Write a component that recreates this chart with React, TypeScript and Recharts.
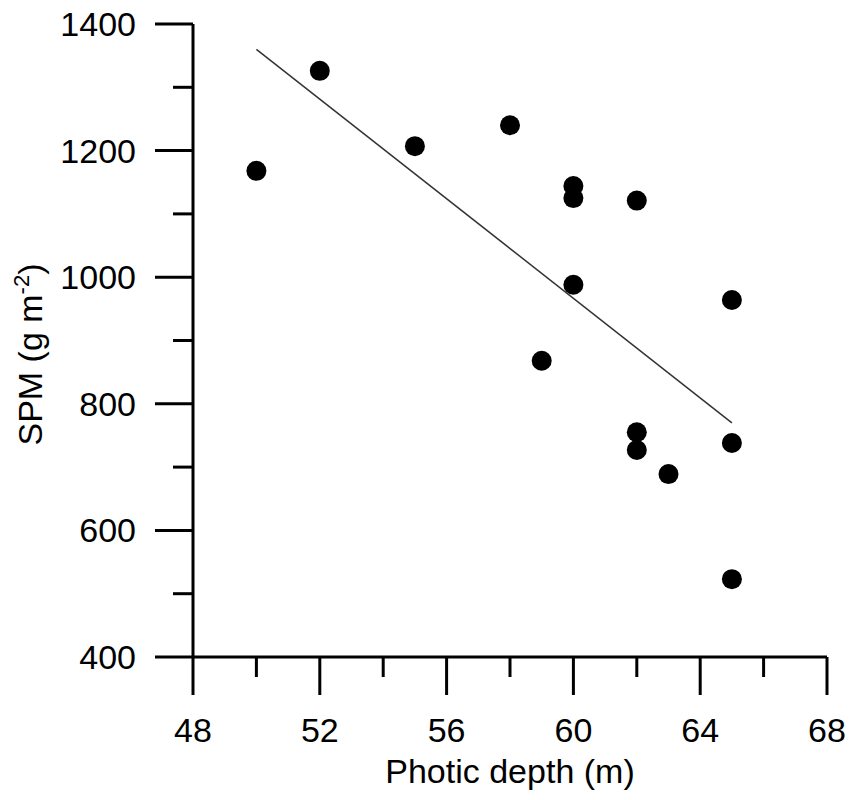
import React from 'react';
import { ScatterChart, Scatter, XAxis, YAxis, Label } from 'recharts';

// photic depth (m) vs SPM (g m-2)
const depth = [50, 52, 55, 58, 59, 60, 60, 60, 62, 62, 62, 63, 65, 65, 65];
const spm = [1168, 1326, 1207, 1240, 868, 1144, 1125, 988, 1121, 755, 727, 689, 964, 738, 523];

// fitted trend line, read from the two ends
const fitX = [50, 65];
const fitY = [1360, 770];

const xTicks = [48, 50, 52, 54, 56, 58, 60, 62, 64, 66, 68];
const xLabels = [48, 52, 56, 60, 64, 68];
const yTicks = [400, 500, 600, 700, 800, 900, 1000, 1100, 1200, 1300, 1400];
const yLabels = [400, 600, 800, 1000, 1200, 1400];

const points = depth.map((d, i) => ({ x: d, y: spm[i] }));
const fitLine = fitX.map((d, i) => ({ x: d, y: fitY[i] }));

const FONT = '"Liberation Sans", Arial, sans-serif';
const FS = 34;
const MAJOR = 38;
const MINOR = 20;
const XGAP = 23;
const YGAP = 19;

const XTick = (props: any) => {
  const { x, y, payload } = props;
  const axisY = y - MAJOR - XGAP;
  const major = xLabels.includes(payload.value);
  return (
    <g>
      <line x1={x} x2={x} y1={axisY} y2={axisY + (major ? MAJOR : MINOR)} stroke="#000" strokeWidth={3} />
      {major && (
        <text x={x} y={y} dy="0.71em" textAnchor="middle" fontSize={FS} fontFamily={FONT} fill="#000">
          {payload.value}
        </text>
      )}
    </g>
  );
};

const YTick = (props: any) => {
  const { x, y, payload } = props;
  const axisX = x + MAJOR + YGAP;
  const major = yLabels.includes(payload.value);
  return (
    <g>
      <line x1={axisX} x2={axisX - (major ? MAJOR : MINOR)} y1={y} y2={y} stroke="#000" strokeWidth={3} />
      {major && (
        <text x={x} y={y} dy="0.355em" textAnchor="end" fontSize={FS} fontFamily={FONT} fill="#000">
          {payload.value}
        </text>
      )}
    </g>
  );
};

const XTitle = (props: any) => {
  const { viewBox } = props;
  return (
    <text x={viewBox.x + viewBox.width / 2} y={viewBox.y + 126} textAnchor="middle" fontSize={FS} fontFamily={FONT} fill="#000">
      Photic depth (m)
    </text>
  );
};

const YTitle = (props: any) => {
  const { viewBox } = props;
  const cx = 42;
  const cy = viewBox.y + viewBox.height / 2 + 14;
  return (
    <text x={cx} y={cy} transform={`rotate(-90, ${cx}, ${cy})`} textAnchor="middle" fontSize={FS} fontFamily={FONT} fill="#000">
      SPM (g m
      <tspan fontSize={22} dy={-13}>-2</tspan>
      <tspan dy={13}>)</tspan>
    </text>
  );
};

const Dot = (props: any) => <circle cx={props.cx} cy={props.cy} r={10} fill="#000" />;

const App: React.FC = () => {
  return (
    <div style={{ position: 'absolute', left: 0, top: 0, width: 850, height: 800, background: '#fff' }}>
      <ScatterChart width={850} height={800} margin={{ top: 24, right: 23, left: 0, bottom: 0 }}>
        <XAxis
          type="number"
          dataKey="x"
          domain={[48, 68]}
          ticks={xTicks}
          interval={0}
          height={143}
          tickSize={MAJOR}
          tickMargin={XGAP}
          tickLine={false}
          tick={<XTick />}
          axisLine={{ stroke: '#000', strokeWidth: 3 }}
        >
          <Label content={<XTitle />} />
        </XAxis>
        <YAxis
          type="number"
          dataKey="y"
          domain={[400, 1400]}
          ticks={yTicks}
          interval={0}
          width={193}
          tickSize={MAJOR}
          tickMargin={YGAP}
          tickLine={false}
          tick={<YTick />}
          axisLine={{ stroke: '#000', strokeWidth: 3 }}
        >
          <Label content={<YTitle />} />
        </YAxis>
        <Scatter
          data={fitLine}
          line={{ stroke: '#333', strokeWidth: 1.5 }}
          shape={() => <g />}
          isAnimationActive={false}
        />
        <Scatter data={points} shape={<Dot />} isAnimationActive={false} />
      </ScatterChart>
    </div>
  );
};

export default App;
